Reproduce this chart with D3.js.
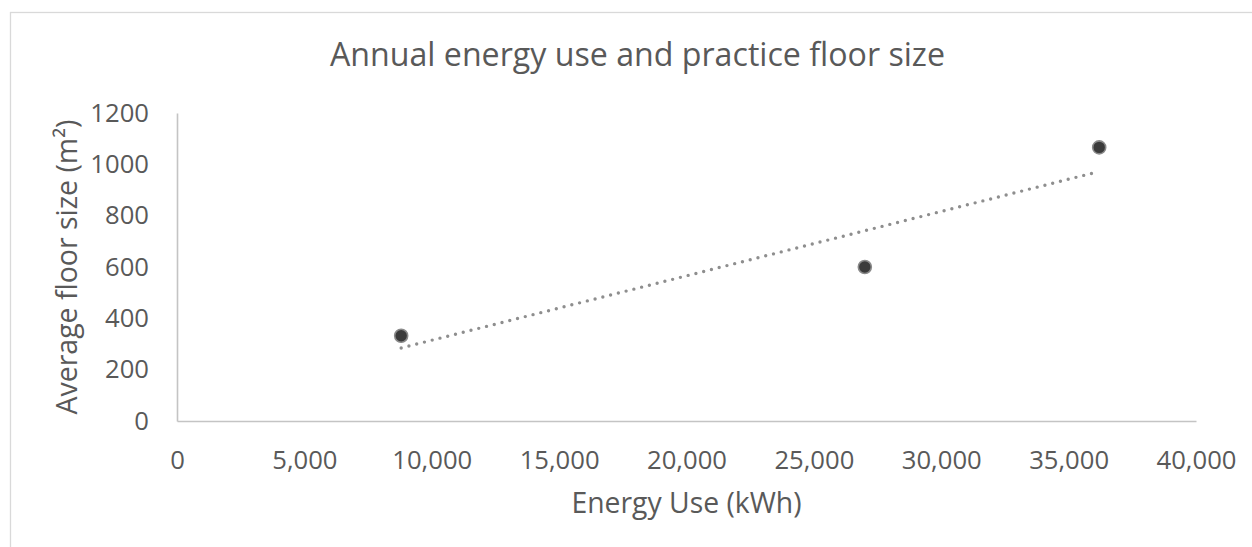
<!DOCTYPE html>
<html>
<head>
<meta charset="utf-8">
<script src="https://cdn.jsdelivr.net/npm/d3@7"></script>
<style>
  html, body { margin: 0; padding: 0; background: #fff; }
  svg { display: block; }
  text { font-family: "Open Sans", "Liberation Sans", sans-serif; fill: #595959; }
</style>
</head>
<body>
<svg id="chart" width="1252" height="547"></svg>
<script>
// ---- data ----
const energyUse = [8800, 27000, 36200];      // kWh
const floorSize = [332, 600, 1066];         // m²
const xTicks = [0, 5000, 10000, 15000, 20000, 25000, 30000, 35000, 40000];
const yTicks = [0, 200, 400, 600, 800, 1000, 1200];
const titleText = "Annual energy use and practice floor size";
const xTitleText = "Energy Use (kWh)";
const yTitleText = "Average floor size (m²)";

const svg = d3.select("#chart");
const plot = { left: 177, right: 1196, top: 113, bottom: 421 };

const x = d3.scaleLinear().domain([0, 40000]).range([plot.left, plot.right]);
const y = d3.scaleLinear().domain([0, 1200]).range([plot.bottom, plot.top]);

function fit(sel, target) {
  const node = sel.node();
  let fs = parseFloat(sel.attr("font-size"));
  for (let i = 0; i < 4; i++) {
    const w = node.getComputedTextLength();
    fs = fs * target / w;
    sel.attr("font-size", fs);
  }
  return fs;
}

// outer chart border
svg.append("rect")
  .attr("x", 10.5).attr("y", 12.5)
  .attr("width", 1300).attr("height", 600)
  .attr("fill", "#fff").attr("stroke", "#d9d9d9").attr("stroke-width", 1.3);

// title
const title = svg.append("text")
  .attr("x", 637.5).attr("y", 66)
  .attr("text-anchor", "middle")
  .attr("font-size", 28)
  .text(titleText);
fit(title, 615);

// x axis
const xAxis = d3.axisBottom(x).tickValues(xTicks).tickSize(0).tickPadding(0)
  .tickFormat(d3.format(","));
const gx = svg.append("g").attr("transform", `translate(0,${plot.bottom})`).call(xAxis);
gx.select(".domain").attr("stroke", "#c4c4c4").attr("stroke-width", 1.6);
gx.selectAll("text").attr("y", 48).attr("dy", 0).attr("fill", "#595959")
  .attr("font-family", '"Open Sans", sans-serif').attr("font-size", 25);
let tickFs;
{
  const last = gx.selectAll("text").filter(d => d === 40000);
  tickFs = fit(last, 80);
  gx.selectAll("text").attr("font-size", tickFs);
}

// y axis
const yAxis = d3.axisLeft(y).tickValues(yTicks).tickSize(0).tickPadding(28)
  .tickFormat(d3.format("d"));
const gy = svg.append("g").attr("transform", `translate(${plot.left},0)`).call(yAxis);
gy.select(".domain").attr("stroke", "#c4c4c4").attr("stroke-width", 1.6);
gy.selectAll("text").attr("fill", "#595959")
  .attr("font-family", '"Open Sans", sans-serif')
  .attr("font-size", tickFs);
gx.attr("font-family", null); gy.attr("font-family", null);

// x axis title
const xTitle = svg.append("text")
  .attr("x", (plot.left + plot.right) / 2).attr("y", 513)
  .attr("text-anchor", "middle").attr("font-size", 27)
  .text(xTitleText);
fit(xTitle, 230);

// y axis title
const yTitle = svg.append("text")
  .attr("transform", `translate(77,${(plot.top + plot.bottom) / 2}) rotate(-90)`)
  .attr("text-anchor", "middle").attr("font-size", 27)
  .text(yTitleText);
fit(yTitle, 295);

// trendline (least squares on the data)
const n = energyUse.length;
const mx = d3.mean(energyUse), my = d3.mean(floorSize);
let sxy = 0, sxx = 0;
for (let i = 0; i < n; i++) {
  sxy += (energyUse[i] - mx) * (floorSize[i] - my);
  sxx += (energyUse[i] - mx) ** 2;
}
const slope = sxy / sxx, intercept = my - slope * mx;
const x0 = d3.min(energyUse), x1 = d3.max(energyUse);
svg.append("line")
  .attr("x1", x(x0)).attr("y1", y(intercept + slope * x0))
  .attr("x2", x(x1)).attr("y2", y(intercept + slope * x1))
  .attr("stroke", "#8e8e8e").attr("stroke-width", 3.4)
  .attr("stroke-linecap", "round").attr("stroke-dasharray", "0,8");

// points
svg.append("g").selectAll("circle")
  .data(energyUse.map((e, i) => ({ e, f: floorSize[i] })))
  .join("circle")
  .attr("cx", d => x(d.e)).attr("cy", d => y(d.f))
  .attr("r", 6.5)
  .attr("fill", "#3b3b3b")
  .attr("stroke", "#8a8a8a").attr("stroke-width", 1.6);
</script>
</body>
</html>
